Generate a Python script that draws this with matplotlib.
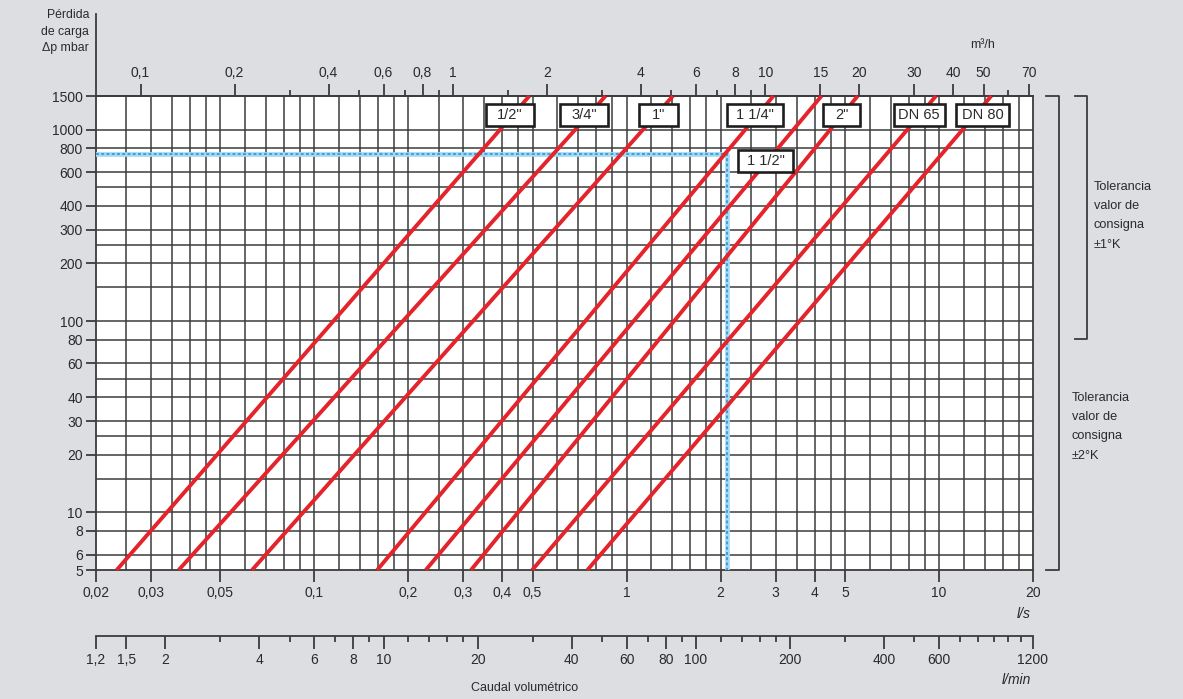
import matplotlib.pyplot as plt
from matplotlib.lines import Line2D
from matplotlib.patches import Rectangle
from matplotlib.transforms import IdentityTransform
from matplotlib.ticker import FixedLocator, NullFormatter, NullLocator

plt.rcParams['font.family'] = ['Liberation Sans', 'DejaVu Sans']

# valve sizes and their flow (l/s) at 5 mbar and at 1500 mbar
sizes = ['1/2"', '3/4"', '1"', '1 1/4"', '1 1/2"', '2"', 'DN 65', 'DN 80']
q_at_5 = [0.0233, 0.0368, 0.0632, 0.159, 0.2275, 0.3175, 0.4985, 0.749]
q_at_1500 = [0.488, 0.856, 1.406, 2.95, 4.206, 5.49, 9.78, 14.7]
dp_ends = [5, 1500]

# worked example: 2.1 l/s at 750 mbar
q_sel = 2.1
dp_sel = 750

# axis ticks
ls_ticks = [0.02, 0.03, 0.05, 0.1, 0.2, 0.3, 0.4, 0.5, 1, 2, 3, 4, 5, 10, 20]
ls_labels = ['0,02', '0,03', '0,05', '0,1', '0,2', '0,3', '0,4', '0,5',
             '1', '2', '3', '4', '5', '10', '20']
dp_ticks = [5, 6, 8, 10, 20, 30, 40, 60, 80, 100, 200, 300, 400, 600, 800, 1000, 1500]
m3h_ticks = [0.1, 0.2, 0.4, 0.6, 0.8, 1, 2, 4, 6, 8, 10, 15, 20, 30, 40, 50, 70]
m3h_labels = ['0,1', '0,2', '0,4', '0,6', '0,8', '1', '2', '4', '6', '8',
              '10', '15', '20', '30', '40', '50', '70']
m3h_minor = [0.3, 0.5, 0.7, 0.9, 1.5, 3, 5, 7, 9, 60]
lmin_ticks = [1.2, 1.5, 2, 4, 6, 8, 10, 20, 40, 60, 80, 100, 200, 400, 600, 1200]
lmin_labels = ['1,2', '1,5', '2', '4', '6', '8', '10', '20', '40', '60', '80',
               '100', '200', '400', '600', '1200']
lmin_minor = [3, 5, 7, 9, 12, 14, 16, 18, 30, 50, 70, 90, 120, 140, 160, 180,
              300, 500, 700, 800, 900, 1000, 1100]

# log paper grid
grid_q = [0.025, 0.03, 0.035, 0.04, 0.045, 0.05, 0.06, 0.07, 0.08, 0.09,
          0.1, 0.12, 0.14, 0.16, 0.18, 0.2, 0.25, 0.3, 0.35, 0.4, 0.45,
          0.5, 0.6, 0.7, 0.8, 0.9, 1, 1.2, 1.4, 1.6, 1.8, 2, 2.5, 3, 3.5,
          4, 4.5, 5, 6, 7, 8, 9, 10, 12, 14, 16, 18]
grid_dp = [6, 8, 10, 15, 20, 25, 30, 40, 50, 60, 80, 100, 150, 200, 250,
           300, 400, 500, 600, 800, 1000]

# label box anchors (l/s, mbar) and box widths in px
label_pos = [(0.422, 1200), (0.730, 1200), (1.263, 1200), (2.58, 1195),
             (2.79, 690), (4.876, 1195), (8.645, 1195), (13.83, 1195)]
label_w = [48, 48, 39, 56, 55, 37, 51, 53]
label_h = 22

W, H = 1183, 699
bg = '#dcdee1'
ink = '#2a2a2a'
gc = '#3c3c3c'
red = '#e4232b'


def fx(px):
    return px / W


def fy(py):
    return 1 - py / H


fig = plt.figure(figsize=(W / 100, H / 100), dpi=100, facecolor=bg)

x0, x1, ytop, ybot = 96, 1033, 96, 570
ax = fig.add_axes([fx(x0), fy(ybot), fx(x1) - fx(x0), fy(ytop) - fy(ybot)])
ax.set_xscale('log')
ax.set_yscale('log')
ax.set_xlim(0.02, 20)
ax.set_ylim(5, 1500)
ax.set_facecolor('white')

for q in grid_q:
    ax.axvline(q, color=gc, lw=1.1, zorder=1)
for p in grid_dp:
    ax.axhline(p, color=gc, lw=1.1, zorder=1)

for s in ax.spines.values():
    s.set_color(gc)
    s.set_linewidth(1.3)

# left axis: pressure drop
ax.yaxis.set_major_locator(FixedLocator(dp_ticks))
ax.yaxis.set_minor_locator(NullLocator())
ax.set_yticklabels([str(v) for v in dp_ticks])
ax.tick_params(axis='y', direction='out', length=7.5, width=1.3, color=gc,
               pad=2, labelsize=10, labelcolor=ink)

# bottom axis: l/s
ax.xaxis.set_major_locator(FixedLocator(ls_ticks))
ax.xaxis.set_minor_locator(NullLocator())
ax.set_xticklabels(ls_labels)
ax.tick_params(axis='x', direction='out', length=8.5, width=1.3, color=gc,
               pad=3, labelsize=10, labelcolor=ink)

# top axis: m3/h
top = ax.secondary_xaxis('top', functions=(lambda q: q * 3.6, lambda m: m / 3.6))
top.xaxis.set_major_locator(FixedLocator(m3h_ticks))
top.xaxis.set_minor_locator(FixedLocator(m3h_minor))
top.xaxis.set_minor_formatter(NullFormatter())
top.set_xticklabels(m3h_labels)
top.tick_params(axis='x', which='major', direction='out', length=8.5, width=1.3,
                color=gc, pad=3, labelsize=10, labelcolor=ink)
top.tick_params(axis='x', which='minor', direction='out', length=4.5, width=1.3,
                color=gc)
top.spines['top'].set_color(gc)
top.spines['top'].set_linewidth(1.3)

# valve curves
for qa, qb in zip(q_at_5, q_at_1500):
    ax.plot([qa, qb], dp_ends, color=red, lw=2.8, zorder=4,
            solid_capstyle='butt', clip_on=False)

# selection example: light band with a dotted core
sel_q = [0.02, q_sel, q_sel]
sel_dp = [dp_sel, dp_sel, 5]
ax.plot(sel_q, sel_dp, color='#a6d9f3', lw=3.4, zorder=3)
ax.plot(sel_q, sel_dp, color='#3c9fdc', lw=1.4, ls=(0, (1.5, 1.2)), zorder=3)

# size labels in white boxes (drawn on the figure, above the curves)
fig.canvas.draw()
for name, (q, p), w in zip(sizes, label_pos, label_w):
    cx, cy = ax.transData.transform((q, p))
    fig.add_artist(Rectangle((cx - w / 2, cy - label_h / 2), w, label_h,
                             transform=IdentityTransform(), fc='white',
                             ec='#1e1e1e', lw=1.9, zorder=6))
    fig.text(cx, cy, name, transform=IdentityTransform(), ha='center',
             va='center', fontsize=10.5, color=ink, zorder=7)

# l/min axis
ax3 = fig.add_axes([fx(x0), fy(636), fx(x1) - fx(x0), 0.0001])
ax3.set_xscale('log')
ax3.set_xlim(1.2, 1200)
ax3.set_facecolor('none')
for k in ['left', 'right', 'top']:
    ax3.spines[k].set_visible(False)
ax3.spines['bottom'].set_color(gc)
ax3.spines['bottom'].set_linewidth(1.3)
ax3.set_yticks([])
ax3.xaxis.set_major_locator(FixedLocator(lmin_ticks))
ax3.xaxis.set_minor_locator(FixedLocator(lmin_minor))
ax3.xaxis.set_minor_formatter(NullFormatter())
ax3.set_xticklabels(lmin_labels)
ax3.tick_params(axis='x', which='major', direction='out', length=9, width=1.3,
                color=gc, pad=3, labelsize=10, labelcolor=ink)
ax3.tick_params(axis='x', which='minor', direction='out', length=4.5, width=1.3,
                color=gc)

# left spine carried up to the heading
fig.add_artist(Line2D([fx(x0), fx(x0)], [fy(ytop), fy(14)], color=gc, lw=1.3))

# brackets on the right
fig.add_artist(Line2D([fx(1046), fx(1059), fx(1059), fx(1046)],
                      [fy(ytop), fy(ytop), fy(ybot), fy(ybot)], color=gc, lw=1.3))
fig.add_artist(Line2D([fx(1075), fx(1087), fx(1087), fx(1075)],
                      [fy(ytop), fy(ytop), fy(339), fy(339)], color=gc, lw=1.3))

small = dict(fontsize=9.2, color=ink, linespacing=1.8)
fig.text(fx(1094), fy(181), 'Tolerancia\nvalor de\nconsigna\n±1°K', ha='left', va='top', **small)
fig.text(fx(1072), fy(392), 'Tolerancia\nvalor de\nconsigna\n±2°K', ha='left', va='top', **small)

fig.text(fx(89), fy(9), 'Pérdida\nde carga\nΔp mbar', ha='right', va='top',
         fontsize=8.8, color=ink, linespacing=1.5)
fig.text(fx(983), fy(45), 'm³/h', ha='center', va='center', fontsize=9, color=ink)
fig.text(fx(1031), fy(614), 'l/s', ha='right', va='center', fontsize=10, color=ink,
         style='italic')
fig.text(fx(1031), fy(680), 'l/min', ha='right', va='center', fontsize=10, color=ink,
         style='italic')
fig.text(fx(525), fy(688), 'Caudal volumétrico', ha='center', va='center',
         fontsize=9, color=ink)

fig.savefig('out.png', dpi=100, facecolor=bg)
